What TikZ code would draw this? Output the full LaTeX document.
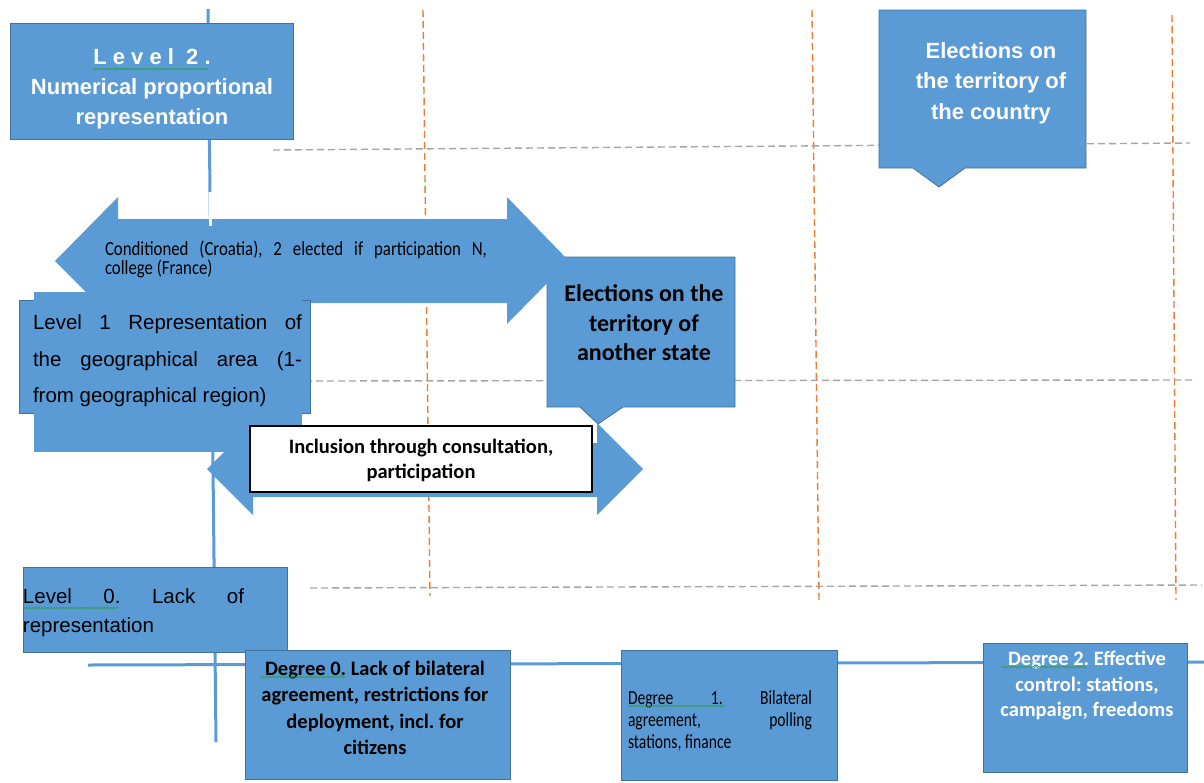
\documentclass[tikz,border=0pt]{standalone}
\usepackage{fontspec}
\setmainfont{Liberation Sans}
\newfontfamily\calfont{Carlito}
\newfontfamily\condfont[FakeStretch=0.84]{Carlito}
\newfontfamily\narrowfont[FakeStretch=0.78]{Carlito}
\usetikzlibrary{decorations.pathmorphing}
\frenchspacing
\definecolor{boxblue}{RGB}{91,155,213}
\definecolor{boxedge}{RGB}{65,113,156}
\definecolor{dashorange}{RGB}{237,125,49}
\definecolor{dashgray}{RGB}{165,165,165}
\definecolor{spellgreen}{RGB}{40,160,60}
\tikzset{
  blueshape/.style={fill=boxblue, draw=boxedge, line width=0.8pt},
  bluefill/.style={fill=boxblue, draw=none},
  axisline/.style={draw=boxblue, line width=3pt},
  vdash/.style={draw=dashorange, line width=1.4pt, dash pattern=on 7pt off 4pt},
  hdash/.style={draw=dashgray, line width=1.4pt, dash pattern=on 7pt off 4pt},
  squiggle/.style={draw=spellgreen, line width=0.6pt, decorate, decoration={snake, segment length=3pt, amplitude=0.8pt}},
  lbl/.style={inner sep=0pt, align=center},
  jlbl/.style={inner sep=0pt, align=justify},
}
\begin{document}
\begin{tikzpicture}[x=1pt,y=-1pt]
\useasboundingbox (0,0) rectangle (1204,782);
% guide lines
\draw[vdash] (423,10) -- (430,596);
\draw[vdash] (812,10) -- (819,600);
\draw[vdash] (1172,15) -- (1176,600);
\draw[hdash] (273,150) -- (1190,143);
\draw[hdash] (305,381) -- (1192,380);
\draw[hdash] (310,588) -- (1202,585);
% axes
\draw[axisline] (208,9) -- (216,742);
\draw[axisline] (88,665) -- (1204,662);
% Level 2
\draw[blueshape] (10,23) rectangle (293,139);
\node[lbl, text=white, font=\bfseries\fontsize{22}{30}\selectfont] (lvl2) at (152,89)
  {L e v e l \ 2 .\\Numerical proportional\\representation};
\draw[squiggle] (93,69) -- (208,69);
% country callout
\draw[blueshape] (879,10) -- (1086,10) -- (1086,168) -- (965,168) -- (939,187) -- (913,168) -- (879,168) -- cycle;
\node[lbl, text=white, font=\bfseries\fontsize{22}{30.5}\selectfont] (country) at (991,83)
  {Elections on\\the territory of\\the country};
% another state callout
\draw[blueshape] (547,257) -- (735,257) -- (735,407) -- (623,407) -- (598,424) -- (580,407) -- (547,407) -- cycle;
% arrow 1
\draw[bluefill] (55,261) -- (118,197) -- (118,219) -- (507,219) -- (507,197) -- (569,261)
  -- (507,324) -- (507,303) -- (118,303) -- (118,324) -- cycle;
\draw[white, line width=3pt] (210,192) -- (210,226);
\node[jlbl, text width=382pt, font=\condfont\fontsize{20}{19}\selectfont] (cond) at (296,259)
  {Conditioned (Croatia), 2 elected if participation N,\linebreak college (France)};
\node[lbl, font=\calfont\bfseries\fontsize{24}{29.5}\selectfont] (another) at (644,323)
  {Elections on the\\territory of\\another state};
% arrow 2
\draw[bluefill] (207,469) -- (253,423) -- (253,443) -- (597,443) -- (597,423) -- (643,469)
  -- (597,515) -- (597,497) -- (253,497) -- (253,515) -- cycle;
% Level 1
\draw[blueshape] (19,300) rectangle (310,413);
\fill[boxblue] (34,292) rectangle (302,452);
\node[jlbl, text width=269pt, font=\fontsize{20.5}{36.5}\selectfont] (lvl1) at (167.5,361)
  {Level 1 Representation of\linebreak the geographical area (1-\linebreak from geographical region)};
% inclusion box
\draw[fill=white, draw=black, line width=1.2pt] (250,426) rectangle (592,492);
\node[lbl, font=\calfont\bfseries\fontsize{20.5}{25}\selectfont] (incl) at (421,460)
  {Inclusion through consultation,\\participation};
% Level 0
\draw[blueshape] (23,567) rectangle (287,652);
\node[jlbl, text width=221pt, font=\fontsize{20.5}{29}\selectfont] (lvl0) at (133.5,613)
  {Level 0. Lack of\linebreak representation};
\draw[squiggle] (23,608) -- (119,608);
% Degree 0
\draw[blueshape] (245,650) rectangle (510,779);
\node[lbl, font=\calfont\bfseries\fontsize{20.5}{26.5}\selectfont] (deg0) at (375,708)
  {Degree 0. Lack of bilateral\\agreement, restrictions for\\deployment, incl. for\\citizens};
\draw[squiggle] (260,677) -- (345,677);
% Degree 1
\draw[blueshape] (621,650) rectangle (837,780);
\node[jlbl, text width=184pt, font=\narrowfont\fontsize{20}{22}\selectfont] (deg1) at (720,721)
  {Degree 1. Bilateral\linebreak agreement, polling\linebreak stations, finance};
\draw[squiggle] (628,706) -- (725,706);
% Degree 2
\draw[blueshape] (983,643) rectangle (1187,772);
\node[lbl, text=white, font=\calfont\bfseries\fontsize{20.5}{25.5}\selectfont] (deg2) at (1087,686)
  {Degree 2. Effective\\control: stations,\\campaign, freedoms};
\draw[squiggle] (1002,667) -- (1087,667);
\end{tikzpicture}
\end{document}
